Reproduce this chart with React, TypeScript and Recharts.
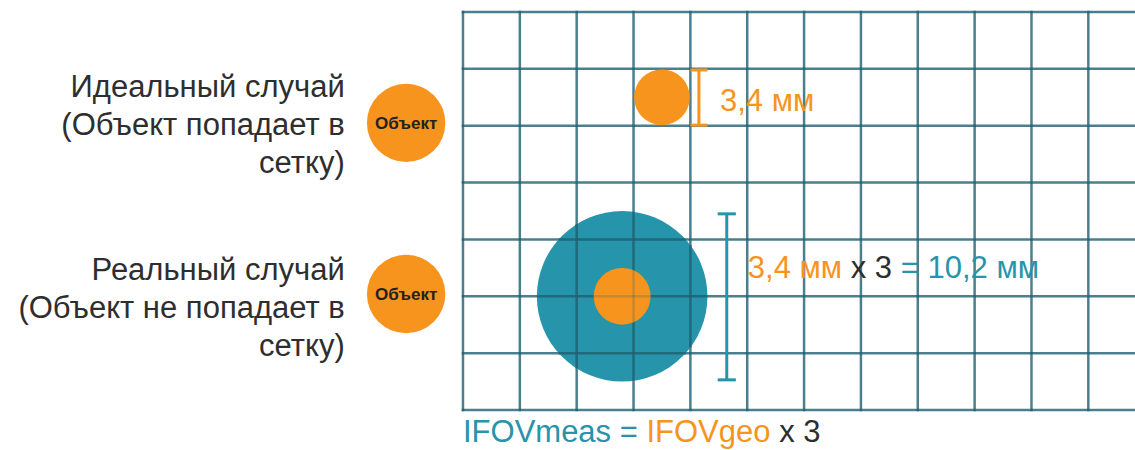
import React from 'react';
import { ScatterChart, Scatter, XAxis, YAxis } from 'recharts';

// ---- layout (grid units: one cell = 1) ----
const W = 1135;
const H = 450;
const X_DOMAIN: [number, number] = [-8.144, 11.821];
const Y_DOMAIN: [number, number] = [-0.211, 7.703];
const PX = W / (X_DOMAIN[1] - X_DOMAIN[0]);

// ---- data ----
const gridCols = [0, 1, 2, 3, 4, 5, 6, 7, 8, 9, 10, 11, 12];
const gridRows = [0, 1, 2, 3, 4, 5, 6, 7];

const measCircles = [{ x: 2.8, y: 5.0, r: 1.5 }];
const geoCircles = [
  { x: 3.5, y: 1.5, r: 0.49 },
  { x: 2.8, y: 5.0, r: 0.5 },
];
const objectCircles = [
  { x: -1.0, y: 1.95, r: 0.69, label: 'Объект' },
  { x: -1.0, y: 4.96, r: 0.69, label: 'Объект' },
];

const geoBars = [{ x: 4.15, y: 1.02, y1: 1.99, cap: 0.15 }];
const measBars = [{ x: 4.64, y: 3.55, y1: 6.47, cap: 0.16 }];

const caseTexts = [
  { x: -2.08, y: 1.495, lines: ['Идеальный случай', '(Объект попадает в', 'сетку)'] },
  { x: -2.08, y: 4.71, lines: ['Реальный случай', '(Объект не попадает в', 'сетку)'] },
];

const geoLabel = [{ x: 4.52, y: 1.74, parts: [{ t: '3,4 мм', k: 'geo' }] }];
const formulaLabel = [
  {
    x: 5.01,
    y: 4.68,
    parts: [
      { t: '3,4 мм', k: 'geo' },
      { t: ' x 3 ', k: 'ink' },
      { t: '= 10,2 мм', k: 'meas' },
    ],
  },
];
const ifovLabel = [
  {
    x: 0.0,
    y: 7.56,
    parts: [
      { t: 'IFOVmeas = ', k: 'meas' },
      { t: 'IFOVgeo', k: 'geo' },
      { t: ' x 3', k: 'ink' },
    ],
  },
];

// ---- styles ----
const ORANGE = '#F7941D';
const TEAL = '#2694AA';
const GRID = '#1F5F70';
const INK = '#2E2E2E';
const FONT = '"Liberation Sans", Arial, Helvetica, sans-serif';
const FS = 31;
const LINE_H = 38;
const tone: Record<string, string> = { geo: ORANGE, meas: TEAL, ink: INK };

const rowSpan = gridRows[gridRows.length - 1] - gridRows[0];
const colSpan = gridCols[gridCols.length - 1] - gridCols[0];

const gridData = [
  ...gridCols.map((c) => ({ x: c, y: gridRows[0], kind: 'v' })),
  ...gridRows.map((r) => ({ x: gridCols[0], y: r, kind: 'h' })),
];

const gridShape = (p: any) =>
  p.payload.kind === 'v' ? (
    <line x1={p.cx} y1={p.cy - 1.25} x2={p.cx} y2={p.cy + rowSpan * PX + 1.25} stroke={GRID} strokeOpacity={0.8} strokeWidth={2.5} />
  ) : (
    <line x1={p.cx - 1.25} y1={p.cy} x2={p.cx + colSpan * PX} y2={p.cy} stroke={GRID} strokeOpacity={0.8} strokeWidth={2.5} />
  );

// the grid shows through a disc: chords of the grid lines that cross it, drawn over the fill
const discWithGrid = (fill: string, lineOpacity: number) => (p: any) => {
  const d = p.payload;
  const R = d.r * PX;
  const chords: React.ReactNode[] = [];
  gridCols.forEach((c) => {
    const dx = (c - d.x) * PX;
    if (Math.abs(dx) < R) {
      const h = Math.sqrt(R * R - dx * dx);
      chords.push(<line key={'v' + c} x1={p.cx + dx} y1={p.cy - h} x2={p.cx + dx} y2={p.cy + h} />);
    }
  });
  gridRows.forEach((r) => {
    const dy = (r - d.y) * PX;
    if (Math.abs(dy) < R) {
      const w = Math.sqrt(R * R - dy * dy);
      chords.push(<line key={'h' + r} x1={p.cx - w} y1={p.cy + dy} x2={p.cx + w} y2={p.cy + dy} />);
    }
  });
  return (
    <g>
      <circle cx={p.cx} cy={p.cy} r={R} fill={fill} />
      <g stroke={GRID} strokeOpacity={lineOpacity} strokeWidth={2.5}>
        {chords}
      </g>
    </g>
  );
};

const barShape = (color: string) => (p: any) => {
  const d = p.payload;
  const y1 = p.cy + (d.y1 - d.y) * PX;
  const c = d.cap * PX;
  return (
    <g stroke={color} strokeWidth={3}>
      <line x1={p.cx} y1={p.cy} x2={p.cx} y2={y1} />
      <line x1={p.cx - c} y1={p.cy} x2={p.cx + c} y2={p.cy} />
      <line x1={p.cx - c} y1={y1} x2={p.cx + c} y2={y1} />
    </g>
  );
};

const objectShape = (p: any) => (
  <g>
    <circle cx={p.cx} cy={p.cy} r={p.payload.r * PX} fill={ORANGE} />
    <text x={p.cx} y={p.cy + 6} textAnchor="middle" fontFamily={FONT} fontSize={17} fontWeight="bold" fill="#222">
      {p.payload.label}
    </text>
  </g>
);

const caseShape = (p: any) => (
  <text x={p.cx} y={p.cy} textAnchor="end" fontFamily={FONT} fontSize={FS} fill={INK}>
    {p.payload.lines.map((l: string, i: number) => (
      <tspan key={i} x={p.cx} dy={i === 0 ? 0 : LINE_H}>
        {l}
      </tspan>
    ))}
  </text>
);

const partsShape = (p: any) => (
  <text x={p.cx} y={p.cy} textAnchor="start" fontFamily={FONT} fontSize={FS} style={{ whiteSpace: 'pre' }}>
    {p.payload.parts.map((s: any, i: number) => (
      <tspan key={i} fill={tone[s.k]}>
        {s.t}
      </tspan>
    ))}
  </text>
);

export default function App() {
  return (
    <div style={{ position: 'absolute', left: 0, top: 0, width: W, height: H, background: '#fff' }}>
      <ScatterChart width={W} height={H} margin={{ top: 0, right: 0, bottom: 0, left: 0 }}>
        <XAxis type="number" dataKey="x" domain={X_DOMAIN} hide allowDataOverflow />
        <YAxis type="number" dataKey="y" domain={Y_DOMAIN} hide reversed allowDataOverflow />

        <Scatter data={gridData} shape={gridShape} isAnimationActive={false} />
        <Scatter data={measCircles} shape={discWithGrid(TEAL, 0.8)} isAnimationActive={false} />
        <Scatter data={geoCircles} shape={discWithGrid(ORANGE, 0.22)} isAnimationActive={false} />
        <Scatter data={geoBars} shape={barShape(ORANGE)} isAnimationActive={false} />
        <Scatter data={measBars} shape={barShape(TEAL)} isAnimationActive={false} />
        <Scatter data={objectCircles} shape={objectShape} isAnimationActive={false} />
        <Scatter data={caseTexts} shape={caseShape} isAnimationActive={false} />
        <Scatter data={geoLabel} shape={partsShape} isAnimationActive={false} />
        <Scatter data={formulaLabel} shape={partsShape} isAnimationActive={false} />
        <Scatter data={ifovLabel} shape={partsShape} isAnimationActive={false} />
      </ScatterChart>
    </div>
  );
}
